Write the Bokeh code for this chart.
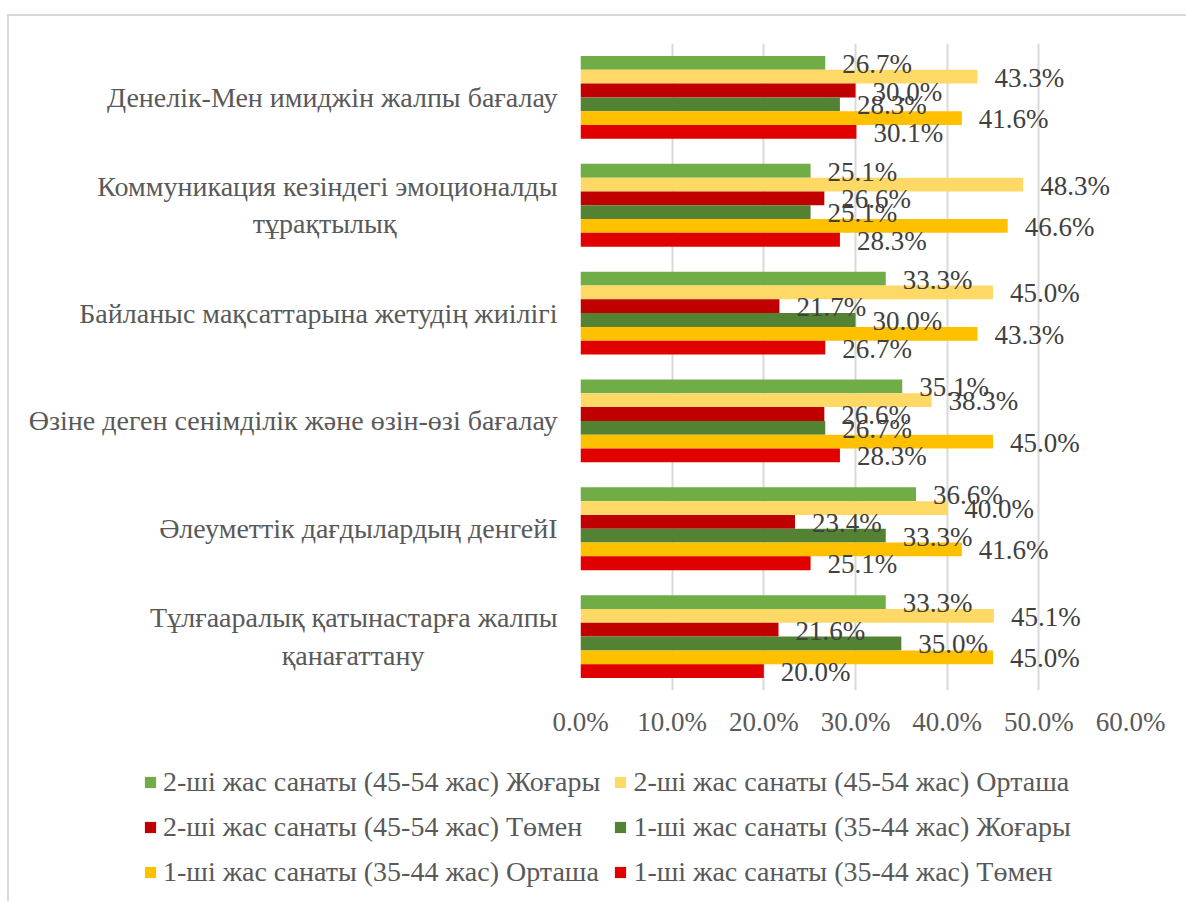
from bokeh.plotting import figure
from bokeh.layouts import column
from bokeh.models import (ColumnDataSource, FactorRange, Range1d, Legend, LegendItem,
                          PrintfTickFormatter, FixedTicker)
from bokeh.transform import dodge
from bokeh.core.properties import value
from bokeh.embed import file_html
from bokeh.resources import INLINE

NB = "\u00a0"
categories = [
    "Денелік-Мен имиджін жалпы бағалау",
    "Коммуникация кезіндегі эмоционалды\nтұрақтылық" + NB * 23,
    "Байланыс мақсаттарына жетудің жиілігі",
    "Өзіне деген сенімділік және өзін-өзі бағалау",
    "Әлеуметтік дағдылардың денгейІ",
    "Тұлғааралық қатынастарға жалпы\nқанағаттану" + NB * 19,
]

series_names = [
    "2-ші жас санаты (45-54 жас) Жоғары",
    "2-ші жас санаты (45-54 жас) Орташа",
    "2-ші жас санаты (45-54 жас) Төмен",
    "1-ші жас санаты (35-44 жас) Жоғары",
    "1-ші жас санаты (35-44 жас) Орташа",
    "1-ші жас санаты (35-44 жас) Төмен",
]

# values (%) per series, in category order (top to bottom)
s2_high = [26.7, 25.1, 33.3, 35.1, 36.6, 33.3]
s2_mid = [43.3, 48.3, 45.0, 38.3, 40.0, 45.1]
s2_low = [30.0, 26.6, 21.7, 26.6, 23.4, 21.6]
s1_high = [28.3, 25.1, 30.0, 26.7, 33.3, 35.0]
s1_mid = [41.6, 46.6, 43.3, 45.0, 41.6, 45.0]
s1_low = [30.1, 28.3, 26.7, 28.3, 25.1, 20.0]

series_values = [s2_high, s2_mid, s2_low, s1_high, s1_mid, s1_low]
colors = ["#70AD47", "#FFD966", "#C00000", "#548235", "#FFC000", "#E00000"]
x_ticks = [0, 10, 20, 30, 40, 50, 60]

FONT = "Liberation Serif"

p = figure(width=1177, height=734,
           y_range=FactorRange(factors=list(reversed(categories))),
           x_range=Range1d(0, 60),
           output_backend="svg", toolbar_location=None,
           min_border_left=571, min_border_right=56,
           min_border_top=27, min_border_bottom=60)
p.frame_align = False
p.outline_line_color = None
p.background_fill_color = "white"
p.border_fill_color = "white"

bar_h = 0.128
sources = []
for i, (name, vals, col) in enumerate(zip(series_names, series_values, colors)):
    off = (2.5 - i) * bar_h
    src = ColumnDataSource(dict(cat=categories, val=vals,
                                lbl=[f"{v:.1f}%" for v in vals]))
    sources.append(src)
    p.hbar(y=dodge("cat", off, range=p.y_range), left=0, right="val",
           height=bar_h, source=src, fill_color=col, line_color=None)
for i, (src, col) in enumerate(zip(sources, colors)):
    off = (2.5 - i) * bar_h
    p.text(x="val", y=dodge("cat", off, range=p.y_range), text="lbl", source=src,
           x_offset=17, y_offset=1, text_baseline="middle", text_align="left",
           text_font=value(FONT), text_font_size="27px", text_color="#404040")

# axes
p.xaxis.ticker = FixedTicker(ticks=x_ticks)
p.xaxis.formatter = PrintfTickFormatter(format="%.1f%%")
for ax in (p.xaxis[0], p.yaxis[0]):
    ax.axis_line_color = None
    ax.major_tick_line_color = None
    ax.minor_tick_line_color = None
    ax.major_label_text_font = FONT
    ax.major_label_text_color = "#595959"
p.xaxis.major_label_text_font_size = "27px"
p.yaxis.major_label_text_font_size = "28px"
p.xaxis.major_label_standoff = 10
p.yaxis.major_label_standoff = 17
p.xgrid.grid_line_color = "#D9D9D9"
p.xgrid.grid_line_width = 2
p.ygrid.grid_line_color = None

# legend figure below
lf = figure(width=1177, height=151,
            y_range=FactorRange(factors=list(reversed(categories))),
            x_range=Range1d(0, 60),
            output_backend="svg", toolbar_location=None,
            x_axis_location=None, y_axis_location=None,
            min_border_left=0, min_border_right=0, min_border_top=0, min_border_bottom=0)
lf.frame_align = False
lf.outline_line_color = None
lf.xgrid.grid_line_color = None
lf.ygrid.grid_line_color = None
leg_renderers = []
for i, (src, col) in enumerate(zip(sources, colors)):
    r = lf.hbar(y="cat", left=0, right="val", height=bar_h, source=src,
                fill_color=col, line_color=None, visible=False)
    leg_renderers.append(r)

legend = Legend(items=[LegendItem(label=n, renderers=[r]) for n, r in zip(series_names, leg_renderers)],
                orientation="horizontal", ncols=2, location=(134, 13),
                label_text_font=FONT, label_text_font_size="28px",
                label_text_color="#595959", glyph_width=14, glyph_height=14,
                label_standoff=6, spacing=13, padding=0, margin=0,
                border_line_color=None, background_fill_alpha=0,
                inactive_fill_alpha=0)
lf.add_layout(legend, "center")

layout = column(p, lf, spacing=0)
layout.styles = {"margin-left": "7px", "margin-top": "14px",
                 "border-left": "2px solid #D9D9D9", "border-top": "2px solid #D9D9D9"}

open("out.html", "w").write(file_html(layout, INLINE))
